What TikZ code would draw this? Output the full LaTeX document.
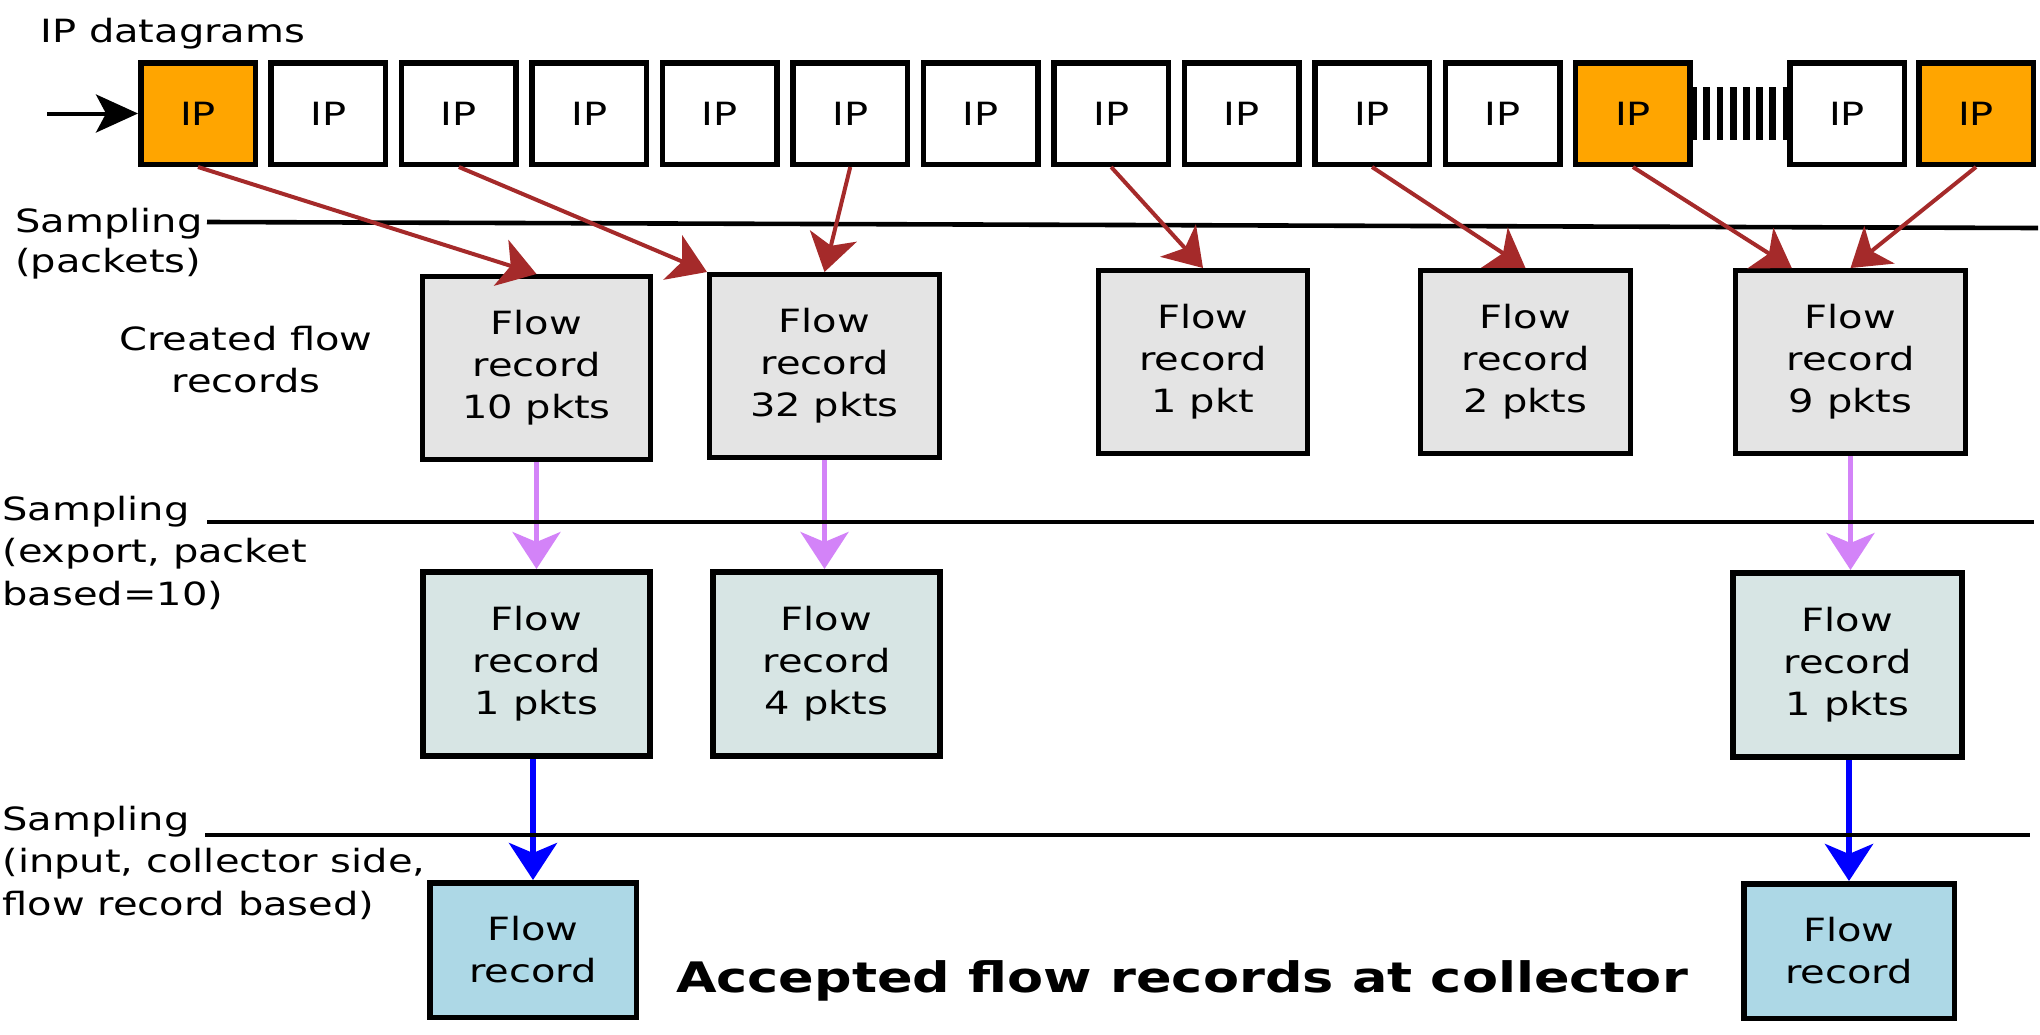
\documentclass[tikz,border=0pt]{standalone}
\usepackage{fontspec}
\newfontfamily\dv[FakeStretch=1.25]{DejaVu Sans}
\usetikzlibrary{arrows.meta,calc}
\definecolor{ipor}{HTML}{FFA500}
\definecolor{rowA}{HTML}{E4E4E4}
\definecolor{rowB}{HTML}{D7E5E4}
\definecolor{rowC}{HTML}{ADD8E6}
\definecolor{redar}{HTML}{A52A2A}
\definecolor{purar}{HTML}{D383F8}
\definecolor{bluar}{HTML}{0000FF}
\begin{document}
\begin{tikzpicture}[x=0.5pt,y=-0.5pt,
  every node/.style={font=\dv\fontsize{16}{21}\selectfont},
  ipbox/.style={draw, line width=2.75pt, fill=white, minimum width=57.25pt, minimum height=50.75pt, inner sep=0pt},
  recA/.style={draw, line width=2.5pt, fill=rowA, minimum height=91.5pt, inner sep=0pt, align=center},
  recB/.style={draw, line width=3pt, fill=rowB, minimum width=113.5pt, minimum height=92pt, inner sep=0pt, align=center},
  recC/.style={draw, line width=2.75pt, fill=rowC, minimum height=67.25pt, inner sep=0pt, align=center},
  lbl/.style={anchor=base west, inner sep=0pt},
  clbl/.style={anchor=base, inner sep=0pt},
  sampline/.style={line width=2.3pt},
  hd/.style={-{Stealth[length=18.5pt,width=24pt,inset=5pt]}},
  redarrow/.style={hd, draw=redar, line width=2pt},
  purarrow/.style={hd, draw=purar, line width=2.3pt},
  bluarrow/.style={hd, draw=bluar, line width=3pt},
  inarrow/.style={-{Stealth[length=21pt,width=19pt,inset=5pt]}, draw=black, line width=2pt}
]
\useasboundingbox (0,0) rectangle (2040,1034);

% IP datagram row
\foreach \i/\c in {1/ipor,2/white,3/white,4/white,5/white,6/white,7/white,8/white,9/white,10/white,11/white,12/ipor}{
  \pgfmathsetmacro\xx{198+130.45*(\i-1)}
  \node[ipbox, fill=\c] (ip\i) at (\xx,113.5) {IP};
}
\node[ipbox] (ip13) at (1847,113.5) {IP};
\node[ipbox, fill=ipor] (ip14) at (1976,113.5) {IP};
\draw[line width=26.5pt, dash pattern=on 3.35pt off 3.25pt, dash phase=1.35pt] (ip12.east) -- (ip13.west);

\coordinate (in) at (47,113.5);
\draw[inarrow] (in) -- (ip1.west);

% labels
\node[lbl] (tdg) at (40,42) {IP datagrams};
\node[lbl] (s1a) at (15,232) {Sampling};
\node[lbl] (s1b) at (15,272) {(packets)};
\node[clbl] (cf1) at (246,350) {Created flow};
\node[clbl] (cf2) at (246,392) {records};
\node[lbl] (s2a) at (2,520) {Sampling};
\node[lbl] (s2b) at (2,562) {(export, packet};
\node[lbl] (s2c) at (2,605) {based=10)};
\node[lbl] (s3a) at (2,830) {Sampling};
\node[lbl] (s3b) at (2,872) {(input, collector side,};
\node[lbl] (s3c) at (2,915) {flow record based)};
\node[clbl, font=\dv\bfseries\fontsize{21}{25}\selectfont] (title) at (1182,992) {Accepted flow records at collector};

% created flow records
\node[recA, minimum width=114pt] (A1) at (536.5,368) {Flow\\record\\10 pkts};
\node[recA, minimum width=115pt] (A2) at (824.5,366) {Flow\\record\\32 pkts};
\node[recA, minimum width=104.5pt] (A3) at (1203,362) {Flow\\record\\1 pkt};
\node[recA, minimum width=105pt] (A4) at (1525.5,362) {Flow\\record\\2 pkts};
\node[recA, minimum width=115pt] (A5) at (1850.5,362) {Flow\\record\\9 pkts};

% exported
\node[recB] (B1) at (536.5,664) {Flow\\record\\1 pkts};
\node[recB] (B2) at (826.5,664) {Flow\\record\\4 pkts};
\node[recB, minimum width=114.5pt] (B3) at (1847.5,665) {Flow\\record\\1 pkts};

% collector
\node[recC, minimum width=103.25pt] (C1) at (533,950) {Flow\\record};
\node[recC, minimum width=105.25pt] (C2) at (1849,951) {Flow\\record};

% arrows between rows
\draw[purarrow] (A1.south) -- (B1.north);
\draw[purarrow] (A2.south) -- (A2.south |- B2.north);
\draw[purarrow] (A5.south) -- (A5.south |- B3.north);
\draw[bluarrow] (C1.north |- B1.south) -- (C1.north);
\draw[bluarrow] (C2.north |- B3.south) -- (C2.north);

% sampling lines
\coordinate (l1a) at (207,222); \coordinate (l1b) at (2038,228);
\coordinate (l2a) at (207,522); \coordinate (l2b) at (2034,522);
\coordinate (l3a) at (205,835); \coordinate (l3b) at (2030,835);
\draw[sampline] (l1a) -- (l1b);
\draw[sampline] (l2a) -- (l2b);
\draw[sampline] (l3a) -- (l3b);

% sampled packets
\draw[redarrow] (ip1.south) -- (A1.north);
\draw[redarrow] (ip3.south) -- (A2.north west);
\draw[redarrow] (ip6.south) -- (A2.north);
\draw[redarrow] (ip8.south) -- (A3.north);
\draw[redarrow] (ip10.south) -- (A4.north);
\draw[redarrow] (ip12.south) -- ($(A5.north west)!0.25!(A5.north east)$);
\draw[redarrow] (ip14.south) -- (A5.north);
\end{tikzpicture}
\end{document}
